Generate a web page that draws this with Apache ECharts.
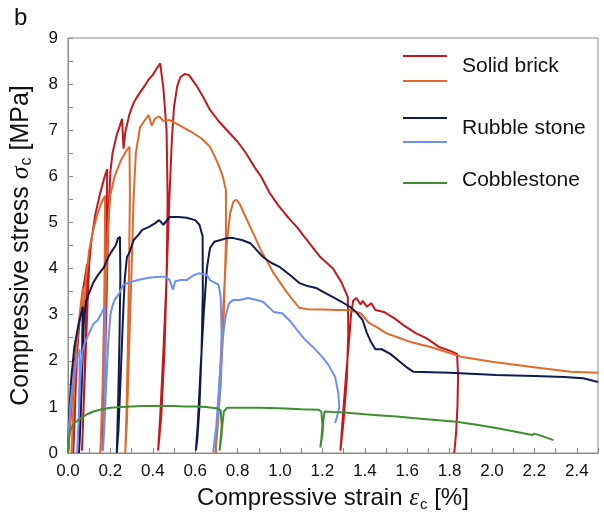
<!DOCTYPE html>
<html>
<head>
<meta charset="utf-8">
<script src="https://cdn.jsdelivr.net/npm/echarts@6/dist/echarts.min.js"></script>
<style>
	html, body { margin: 0; padding: 0; background: #fff; }
	#chart { width: 604px; height: 521px; }
</style>
</head>
<body>
<div id="chart"></div>
<script>
// solid brick, specimen 1 (red)
const brickAStrain = [0, 0.01, 0.02, 0.03, 0.04, 0.037, 0.032, 0.026, 0.025, 0.03, 0.037, 0.045, 0.055, 0.07, 0.09, 0.087, 0.08, 0.072, 0.066, 0.072, 0.082, 0.092, 0.1, 0.11, 0.13, 0.15, 0.17, 0.185, 0.183, 0.178, 0.172, 0.166, 0.162, 0.168, 0.176, 0.184, 0.192, 0.2, 0.21, 0.23, 0.245, 0.255, 0.262, 0.27, 0.29, 0.31, 0.33, 0.36, 0.38, 0.4, 0.42, 0.435, 0.45, 0.465, 0.47, 0.465, 0.455, 0.44, 0.425, 0.435, 0.45, 0.465, 0.478, 0.49, 0.5, 0.515, 0.53, 0.55, 0.57, 0.61, 0.64, 0.67, 0.71, 0.75, 0.8, 0.84, 0.88, 0.91, 0.95, 0.99, 1.04, 1.08, 1.13, 1.19, 1.25, 1.29, 1.32, 1.322, 1.315, 1.3, 1.285, 1.295, 1.31, 1.325, 1.335, 1.345, 1.36, 1.38, 1.39, 1.41, 1.43, 1.45, 1.49, 1.54, 1.58, 1.64, 1.69, 1.75, 1.8, 1.835, 1.84, 1.837, 1.83, 1.822];
const brickAStress = [0, 0.6, 1.3, 1.9, 2.4, 1.6, 0.8, 0.15, 0, 0.7, 1.5, 2.3, 2.9, 3.5, 4.1, 3.2, 2.0, 0.8, 0.05, 0.8, 2.0, 3.2, 4.1, 4.6, 5.2, 5.6, 5.95, 6.16, 5.3, 3.8, 2.2, 0.8, 0.05, 0.8, 2.2, 3.8, 5.3, 6.1, 6.5, 6.9, 7.1, 7.25, 6.6, 6.95, 7.35, 7.6, 7.75, 7.95, 8.1, 8.2, 8.35, 8.45, 7.9, 7.0, 5.5, 3.8, 2.2, 0.8, 0.05, 0.8, 2.2, 3.8, 5.5, 6.8, 7.5, 7.95, 8.15, 8.22, 8.2, 7.94, 7.7, 7.44, 7.2, 7.0, 6.75, 6.5, 6.2, 6.0, 5.65, 5.38, 5.1, 4.9, 4.6, 4.25, 4.0, 3.7, 3.38, 2.6, 1.6, 0.7, 0.05, 0.7, 1.6, 2.4, 3.0, 3.3, 3.36, 3.22, 3.3, 3.17, 3.25, 3.1, 3.06, 2.92, 2.78, 2.6, 2.49, 2.3, 2.22, 2.15, 1.7, 1.0, 0.4, 0];

// solid brick, specimen 2 (orange)
const brickBStrain = [0, 0.01, 0.02, 0.03, 0.027, 0.02, 0.016, 0.022, 0.03, 0.04, 0.055, 0.07, 0.068, 0.062, 0.055, 0.05, 0.057, 0.066, 0.075, 0.085, 0.1, 0.12, 0.14, 0.16, 0.175, 0.174, 0.17, 0.163, 0.155, 0.152, 0.16, 0.17, 0.18, 0.19, 0.2, 0.22, 0.25, 0.275, 0.29, 0.292, 0.288, 0.282, 0.275, 0.27, 0.278, 0.288, 0.3, 0.31, 0.32, 0.34, 0.36, 0.38, 0.395, 0.41, 0.43, 0.45, 0.48, 0.52, 0.56, 0.59, 0.63, 0.67, 0.69, 0.71, 0.73, 0.745, 0.745, 0.735, 0.72, 0.705, 0.695, 0.705, 0.72, 0.735, 0.75, 0.765, 0.78, 0.795, 0.81, 0.83, 0.87, 0.91, 0.94, 0.97, 1.03, 1.09, 1.13, 1.2, 1.27, 1.33, 1.38, 1.42, 1.46, 1.5, 1.56, 1.62, 1.71, 1.86, 2.0, 2.18, 2.37, 2.5];
const brickBStress = [0, 0.7, 1.4, 2.0, 1.2, 0.4, 0, 0.6, 1.5, 2.3, 3.0, 3.6, 2.6, 1.4, 0.4, 0, 0.6, 1.8, 3.0, 3.8, 4.4, 4.85, 5.2, 5.45, 5.58, 4.6, 3.0, 1.4, 0.3, 0, 0.8, 2.2, 3.8, 5.0, 5.6, 6.0, 6.35, 6.55, 6.64, 5.6, 4.0, 2.2, 0.7, 0, 0.7, 2.2, 4.0, 5.6, 6.5, 7.07, 7.2, 7.33, 7.1, 7.25, 7.3, 7.2, 7.22, 7.12, 7.02, 6.94, 6.82, 6.64, 6.45, 6.25, 6.0, 5.7, 4.6, 3.0, 1.5, 0.5, 0, 0.7, 2.0, 3.4, 4.6, 5.2, 5.45, 5.49, 5.4, 5.2, 4.8, 4.4, 4.15, 3.9, 3.5, 3.15, 3.12, 3.11, 3.1, 3.1, 3.03, 2.82, 2.72, 2.6, 2.5, 2.4, 2.3, 2.08, 1.98, 1.87, 1.76, 1.74];

// rubble stone, specimen 1 (dark blue)
const rubbleAStrain = [0, 0.005, 0.015, 0.03, 0.05, 0.07, 0.068, 0.062, 0.055, 0.052, 0.058, 0.066, 0.074, 0.085, 0.1, 0.12, 0.14, 0.17, 0.19, 0.21, 0.225, 0.235, 0.245, 0.247, 0.243, 0.237, 0.232, 0.23, 0.238, 0.248, 0.258, 0.268, 0.278, 0.29, 0.31, 0.33, 0.35, 0.38, 0.41, 0.43, 0.45, 0.48, 0.52, 0.56, 0.6, 0.62, 0.635, 0.636, 0.63, 0.62, 0.61, 0.603, 0.612, 0.625, 0.64, 0.655, 0.67, 0.69, 0.72, 0.75, 0.78, 0.82, 0.86, 0.89, 0.92, 0.96, 1.0, 1.05, 1.09, 1.13, 1.17, 1.21, 1.25, 1.29, 1.33, 1.36, 1.39, 1.41, 1.43, 1.45, 1.48, 1.52, 1.56, 1.6, 1.63, 1.8, 2.02, 2.2, 2.34, 2.43, 2.5];
const rubbleAStress = [0, 0.8, 1.6, 2.3, 2.8, 3.17, 2.3, 1.2, 0.3, 0, 0.6, 1.7, 2.8, 3.3, 3.47, 3.7, 3.85, 4.03, 4.25, 4.4, 4.5, 4.65, 4.69, 3.8, 2.5, 1.2, 0.3, 0, 0.5, 1.6, 2.8, 3.8, 4.25, 4.35, 4.62, 4.72, 4.84, 4.9, 4.98, 5.05, 4.95, 5.12, 5.12, 5.1, 5.05, 4.95, 4.7, 3.5, 2.2, 1.0, 0.3, 0.05, 0.6, 1.8, 3.0, 4.0, 4.45, 4.58, 4.62, 4.66, 4.66, 4.62, 4.55, 4.4, 4.25, 4.12, 4.03, 3.85, 3.69, 3.62, 3.58, 3.48, 3.38, 3.28, 3.17, 3.05, 2.88, 2.6, 2.4, 2.25, 2.25, 2.15, 2.0, 1.85, 1.76, 1.74, 1.69, 1.67, 1.65, 1.62, 1.54];

// rubble stone, specimen 2 (light blue)
const rubbleBStrain = [0, 0.005, 0.012, 0.025, 0.04, 0.055, 0.054, 0.05, 0.045, 0.043, 0.05, 0.058, 0.068, 0.08, 0.1, 0.12, 0.14, 0.16, 0.175, 0.176, 0.173, 0.168, 0.165, 0.172, 0.18, 0.19, 0.2, 0.21, 0.22, 0.24, 0.26, 0.29, 0.33, 0.38, 0.43, 0.46, 0.48, 0.495, 0.505, 0.53, 0.56, 0.59, 0.62, 0.655, 0.67, 0.685, 0.71, 0.72, 0.725, 0.718, 0.7, 0.685, 0.7, 0.715, 0.73, 0.745, 0.76, 0.78, 0.81, 0.85, 0.88, 0.92, 0.95, 0.97, 1.01, 1.05, 1.08, 1.12, 1.16, 1.2, 1.23, 1.26, 1.275, 1.28, 1.27, 1.26];
const rubbleBStress = [0, 0.6, 1.1, 1.6, 2.0, 2.25, 1.5, 0.7, 0.1, 0, 0.7, 1.6, 2.2, 2.4, 2.6, 2.8, 2.88, 3.05, 3.17, 2.3, 1.3, 0.5, 0.05, 0.6, 1.5, 2.4, 3.0, 3.2, 3.32, 3.45, 3.64, 3.7, 3.75, 3.8, 3.82, 3.82, 3.75, 3.54, 3.72, 3.75, 3.75, 3.85, 3.9, 3.86, 3.75, 3.71, 3.65, 3.4, 2.5, 1.4, 0.5, 0.02, 0.6, 1.6, 2.5, 3.0, 3.25, 3.32, 3.32, 3.36, 3.33, 3.28, 3.15, 3.06, 3.03, 2.85, 2.67, 2.45, 2.28, 2.08, 1.9, 1.65, 1.3, 1.0, 0.8, 0.65];

// cobblestone (green)
const cobbleStrain = [0, 0.004, 0.01, 0.03, 0.06, 0.09, 0.12, 0.16, 0.2, 0.25, 0.3, 0.35, 0.4, 0.45, 0.5, 0.55, 0.6, 0.65, 0.68, 0.7, 0.72, 0.725, 0.72, 0.715, 0.722, 0.728, 0.735, 0.75, 0.8, 0.9, 1.0, 1.1, 1.18, 1.195, 1.2, 1.195, 1.19, 1.2, 1.205, 1.21, 1.25, 1.3, 1.4, 1.46, 1.55, 1.65, 1.75, 1.83, 1.92, 2.02, 2.1, 2.19, 2.2, 2.24, 2.29];
const cobbleStress = [0, 0.3, 0.5, 0.65, 0.75, 0.84, 0.9, 0.95, 0.98, 1.0, 1.01, 1.02, 1.02, 1.02, 1.02, 1.01, 1.01, 1.0, 0.98, 0.97, 0.93, 0.6, 0.3, 0.05, 0.3, 0.6, 0.9, 0.98, 0.98, 0.98, 0.97, 0.95, 0.94, 0.9, 0.6, 0.3, 0.12, 0.4, 0.7, 0.9, 0.89, 0.88, 0.84, 0.82, 0.79, 0.75, 0.71, 0.68, 0.62, 0.54, 0.47, 0.39, 0.42, 0.36, 0.28];

const xTicks = { min: 0, max: 2.5, step: 0.1 };
const yTicks = { min: 0, max: 9, step: 0.5 };

const FONT = "Liberation Sans, Arial, sans-serif";
const SERIF = "Liberation Serif, DejaVu Serif, serif";

const pairs = (xs, ys) => xs.map((x, i) => [x, ys[i]]);

const curve = (name, color, xs, ys) => ({
	name: name,
	type: "line",
	showSymbol: false,
	symbol: "none",
	smooth: false,
	sampling: null,
	lineStyle: { color: color, width: 2 },
	itemStyle: { color: color },
	data: pairs(xs, ys)
});

const COLORS = {
	brickA: "#c8161d",
	brickB: "#e2692a",
	rubbleA: "#111a4e",
	rubbleB: "#6e8ff2",
	cobble: "#3e8e32"
};

// legend drawn by hand: two specimens per material share one label
const legendLine = (y, color) => ({
	type: "line",
	shape: { x1: 403, y1: y, x2: 447, y2: y },
	style: { stroke: color, lineWidth: 2 }
});
const legendText = (y, text) => ({
	type: "text",
	left: 462,
	top: y - 12,
	style: { text: text, font: "21px " + FONT, fill: "#111" }
});

// axis title with italic greek symbol and subscript
const titleStyle = size => ({
	color: "#111",
	fontFamily: FONT,
	fontSize: size,
	rich: {
		g: { fontSize: size + 1, fontStyle: "italic", fontFamily: SERIF, color: "#111" },
		sub: { fontSize: Math.round(size * 0.62), fontFamily: FONT, color: "#111", padding: [12, 0, 0, 1] }
	}
});

const chart = echarts.init(document.getElementById("chart"));
chart.setOption({
	animation: false,
	backgroundColor: "#fff",
	grid: {
		left: 68,
		right: 6,
		top: 38,
		bottom: 68,
		show: true,
		borderColor: "#8a8a8a",
		borderWidth: 1
	},
	xAxis: {
		type: "value",
		min: xTicks.min,
		max: xTicks.max,
		interval: xTicks.step,
		name: "Compressive strain {g|ε}{sub|c} [%]",
		nameLocation: "middle",
		nameGap: 32,
		nameTextStyle: titleStyle(24),
		axisLine: { lineStyle: { color: "#8a8a8a", width: 1 } },
		axisTick: { inside: true, length: 5, lineStyle: { color: "#8a8a8a" } },
		axisLabel: {
			color: "#111",
			fontFamily: FONT,
			fontSize: 17,
			margin: 10,
			formatter: v => (Math.round(v * 10) % 2 === 0 ? v.toFixed(1) : "")
		},
		splitLine: { show: false }
	},
	yAxis: {
		type: "value",
		min: yTicks.min,
		max: yTicks.max,
		interval: yTicks.step,
		name: "Compressive stress {g|σ}{sub|c} [MPa]",
		nameLocation: "middle",
		nameGap: 33,
		nameRotate: 90,
		nameTextStyle: titleStyle(25),
		axisLine: { show: true, lineStyle: { color: "#8a8a8a", width: 1 } },
		axisTick: { show: true, inside: true, length: 5, lineStyle: { color: "#8a8a8a" } },
		axisLabel: {
			color: "#111",
			fontFamily: FONT,
			fontSize: 17,
			margin: 10,
			formatter: v => (Math.round(v * 10) % 10 === 0 ? String(v) : "")
		},
		splitLine: { show: false }
	},
	series: [
		curve("Solid brick 1", COLORS.brickA, brickAStrain, brickAStress),
		curve("Solid brick 2", COLORS.brickB, brickBStrain, brickBStress),
		curve("Rubble stone 1", COLORS.rubbleA, rubbleAStrain, rubbleAStress),
		curve("Rubble stone 2", COLORS.rubbleB, rubbleBStrain, rubbleBStress),
		curve("Cobblestone", COLORS.cobble, cobbleStrain, cobbleStress)
	],
	graphic: [
		{ type: "text", left: 14, top: 6, style: { text: "b", font: "24px " + FONT, fill: "#111" } },
		legendLine(56, COLORS.brickA),
		legendLine(81, COLORS.brickB),
		legendText(68, "Solid brick"),
		legendLine(118, COLORS.rubbleA),
		legendLine(142, COLORS.rubbleB),
		legendText(130, "Rubble stone"),
		legendLine(183, COLORS.cobble),
		legendText(182, "Cobblestone")
	]
});
</script>
</body>
</html>
